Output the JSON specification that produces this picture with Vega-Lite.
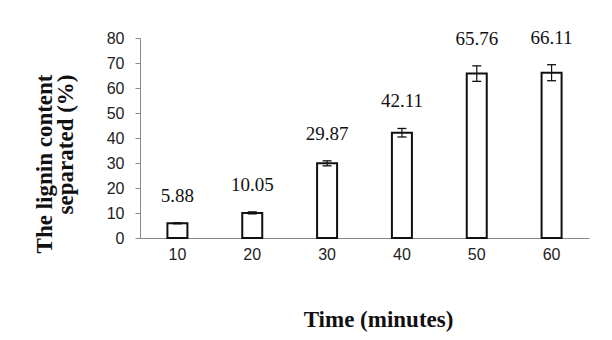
{
  "$schema": "https://vega.github.io/schema/vega-lite/v6.json",
  "width": 449,
  "height": 200,
  "autosize": {"type": "none"},
  "padding": {"left": 140, "top": 38, "right": 23, "bottom": 102},
  "background": "white",
  "config": {
    "view": {"stroke": null},
    "axisY": {
      "grid": false,
      "tickSize": 5,
      "tickColor": "#888",
      "domainColor": "#888",
      "labelFont": "Liberation Sans",
      "labelFontSize": 16,
      "labelColor": "#222",
      "labelPadding": 11,
      "labelOverlap": false,
      "titleFont": "Liberation Serif",
      "titleFontWeight": "bold",
      "titleFontSize": 23,
      "titleColor": "#111",
      "titleAngle": -90,
      "titleAlign": "right",
      "titleBaseline": "top",
      "titleX": -107,
      "titleY": 36,
      "titleLineHeight": 21
    }
  },
  "data": {
    "values": [
      {"time": 10, "value": 5.88, "lo": 5.68, "hi": 6.08},
      {"time": 20, "value": 10.05, "lo": 9.65, "hi": 10.45},
      {"time": 30, "value": 29.87, "lo": 28.87, "hi": 30.87},
      {"time": 40, "value": 42.11, "lo": 40.41, "hi": 43.81},
      {"time": 50, "value": 65.76, "lo": 62.66, "hi": 68.86},
      {"time": 60, "value": 66.11, "lo": 62.91, "hi": 69.31}
    ]
  },
  "encoding": {
    "x": {
      "field": "time",
      "type": "ordinal",
      "scale": {"paddingInner": 0, "paddingOuter": 0},
      "axis": {
        "labelAngle": 0,
        "ticks": false,
        "domainColor": "#888",
        "labelFont": "Liberation Sans",
        "labelFontSize": 16,
        "labelColor": "#222",
        "labelPadding": 8,
        "title": "Time (minutes)",
        "titleFont": "Liberation Serif",
        "titleFontWeight": "bold",
        "titleFontSize": 23,
        "titleColor": "#111",
        "titleX": 238,
        "titleY": 88,
        "titleAlign": "center",
        "titleBaseline": "alphabetic"
      }
    }
  },
  "layer": [
    {
      "mark": {"type": "bar", "size": 20, "fill": "white", "stroke": "#111", "strokeWidth": 2},
      "encoding": {
        "y": {
          "field": "value",
          "type": "quantitative",
          "scale": {"domain": [0, 80]},
          "axis": {"values": [0, 10, 20, 30, 40, 50, 60, 70, 80], "title": ["The lignin content", "separated (%)"]}
        }
      }
    },
    {
      "mark": {"type": "rule", "stroke": "#111", "strokeWidth": 1.2},
      "encoding": {
        "y": {"field": "lo", "type": "quantitative", "axis": {"values": [0, 10, 20, 30, 40, 50, 60, 70, 80], "title": ["The lignin content", "separated (%)"]}},
        "y2": {"field": "hi"}
      }
    },
    {
      "mark": {"type": "tick", "size": 9, "thickness": 1.3, "color": "#111", "opacity": 1},
      "encoding": {"y": {"field": "lo", "type": "quantitative", "axis": {"values": [0, 10, 20, 30, 40, 50, 60, 70, 80], "title": ["The lignin content", "separated (%)"]}}}
    },
    {
      "mark": {"type": "tick", "size": 9, "thickness": 1.3, "color": "#111", "opacity": 1},
      "encoding": {"y": {"field": "hi", "type": "quantitative", "axis": {"values": [0, 10, 20, 30, 40, 50, 60, 70, 80], "title": ["The lignin content", "separated (%)"]}}}
    },
    {
      "mark": {"type": "text", "baseline": "bottom", "dy": -17, "font": "Liberation Serif", "fontSize": 19, "color": "#111"},
      "encoding": {
        "y": {"field": "hi", "type": "quantitative", "axis": {"values": [0, 10, 20, 30, 40, 50, 60, 70, 80], "title": ["The lignin content", "separated (%)"]}},
        "text": {"field": "value", "type": "quantitative", "format": ".2f"}
      }
    }
  ]
}
